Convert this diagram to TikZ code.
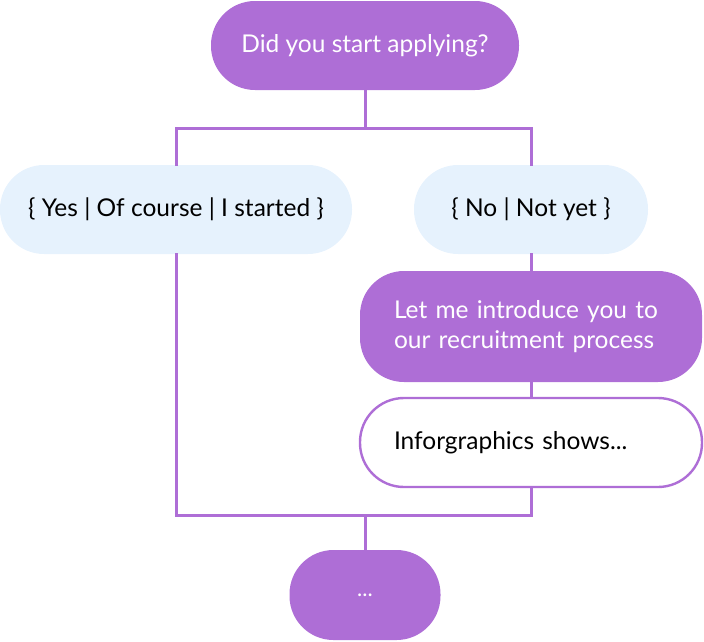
\documentclass[tikz,border=0pt]{standalone}
\usepackage{fontspec}
\setmainfont{Lato}
\usetikzlibrary{positioning}
\definecolor{lilac}{RGB}{174,110,214}
\definecolor{paleblue}{RGB}{230,242,253}

\begin{document}
\begin{tikzpicture}
[x=1pt,y=-1pt,
  linkdecorate/.style={draw=lilac,line width=3pt},%
  pilldecorate/.style={shape=rectangle,rounded corners=44pt,inner sep=0pt,font=\fontsize{24.5}{30}\selectfont},%
  askdecorate/.style={pilldecorate,fill=lilac,text=white},%
  answerdecorate/.style={pilldecorate,fill=paleblue,text=black,minimum height=89pt},%
  notedecorate/.style={pilldecorate,draw=lilac,line width=2.4pt,fill=white,text=black}]
\useasboundingbox (0,0) rectangle (704,641);
%%
%% Nodes
\node (ask) at (365,45.5) [askdecorate,minimum width=308pt,minimum height=89pt] {Did you start applying?};
\node (yes) at (176,209.5) [answerdecorate,minimum width=352pt] {\{ Yes | Of course | I started \}};
\node (no) at (531,209.5) [answerdecorate,minimum width=234pt] {\{ No | Not yet \}};
\node (intro) at (531,326.5) [askdecorate,text width=274pt,inner xsep=34pt,minimum height=111pt,align=left] {Let me introduce you to\\our recruitment process};
\node (info) at (531,442.5) [notedecorate,text width=274pt,inner xsep=34pt,minimum height=89pt,align=left] {Inforgraphics shows...};
\node (more) at (365,595) [askdecorate,minimum width=151pt,minimum height=90pt,font=\fontsize{22}{24}\selectfont] {...};
%%
%% Junctions
\foreach \pointname/\x/\y in {
  split/365/128, splitL/176/128, splitR/531/128,
  join/365/515, joinL/176/515, joinR/531/515}
{
  \coordinate (\pointname) at (\x,\y);
}
%%
%% Lines
\path
\foreach \startnode/\endnode in {
  ask/split, splitL/splitR, splitL/yes, splitR/no,
  yes/joinL, no/intro, intro/info, info/joinR,
  joinL/joinR, join/more} {
  (\startnode) edge[linkdecorate,line cap=rect] (\endnode)
};
\end{tikzpicture}
\end{document}
